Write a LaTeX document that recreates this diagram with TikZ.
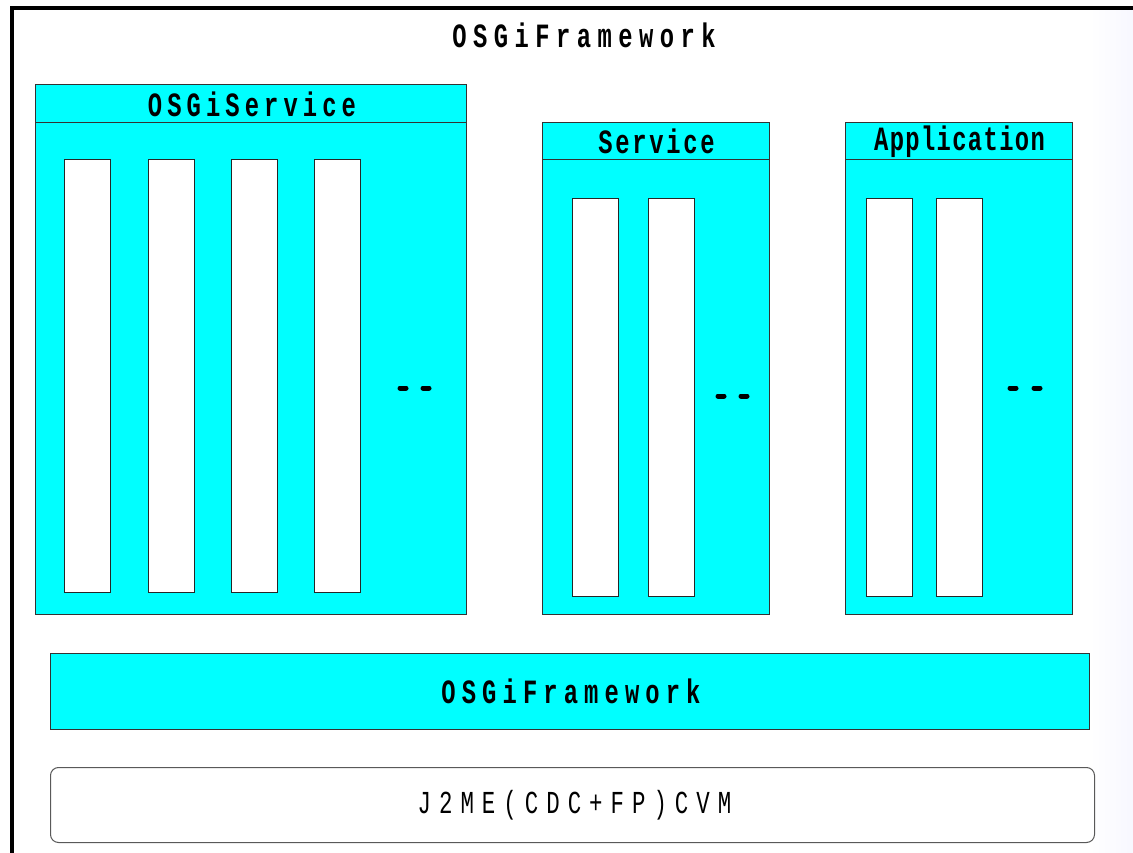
\documentclass[tikz,border=0pt]{standalone}
\usepackage{fontspec}
\newfontfamily\lab[FakeStretch=0.7]{Liberation Mono}
\newcommand{\ls}[1]{\addfontfeature{LetterSpace=#1}}
\definecolor{aqua}{RGB}{0,255,255}
\begin{document}
\begin{tikzpicture}[x=1pt,y=-1pt,
  box/.style={draw=black!80, fill=aqua, line width=1pt, inner sep=0pt, outer sep=0pt, anchor=north west},
  hdr/.style={box, font=\lab\bfseries\fontsize{34}{34}\selectfont},
  bar/.style={draw=black!85, fill=white, line width=1pt, inner sep=0pt, outer sep=0pt, anchor=north west, minimum width=46pt},
  dotmark/.style={line width=5pt, line cap=round},
  txt/.style={inner sep=0pt, font=\lab\bfseries\fontsize{34}{34}\selectfont}]
\useasboundingbox (0,0) rectangle (1133,853);
\fill[white] (0,0) rectangle (1133,853);
\shade[left color=white, right color=blue!3] (1090,10) rectangle (1133,853);
% outer frame
\coordinate (fbl) at (12,853);
\coordinate (ftl) at (12,8);
\coordinate (ftr) at (1133,8);
\draw[line width=4pt] (fbl) -- (ftl) -- (ftr);
\node[txt] (title) at (584,35) {\ls{19}OSGiFramework};

% OSGiService
\node[box, minimum width=431pt, minimum height=529pt] (osvc) at (35,85) {};
\node[hdr, minimum width=431pt, minimum height=38pt] (osvch) at (35,85) {\hspace*{3pt}\ls{15}OSGiService};
\foreach \x/\n in {64/a,148/b,231/c,314/d}
  \node[bar, minimum height=432pt] (ob\n) at (\x,160) {};
\coordinate (od1) at (400,388); \coordinate (od2) at (406,388);
\coordinate (od3) at (423,388); \coordinate (od4) at (429,388);
\draw[dotmark] (od1) -- (od2) (od3) -- (od4);

% Service
\node[box, minimum width=227pt, minimum height=491pt] (svc) at (542,123) {};
\node[hdr, minimum width=227pt, minimum height=37pt] (svch) at (542,123) {\hspace*{2pt}\ls{8}Service};
\foreach \x/\n in {572/a,648/b}
  \node[bar, minimum height=397pt] (sb\n) at (\x,199) {};
\coordinate (sd1) at (718,396); \coordinate (sd2) at (724,396);
\coordinate (sd3) at (741,396); \coordinate (sd4) at (747,396);
\draw[dotmark] (sd1) -- (sd2) (sd3) -- (sd4);

% Application
\node[box, minimum width=227pt, minimum height=491pt] (app) at (845,123) {};
\node[hdr, minimum width=227pt, minimum height=37pt] (apph) at (845,123) {\hspace*{2pt}\ls{4}Application};
\foreach \x/\n in {866/a,936/b}
  \node[bar, minimum height=397pt] (ab\n) at (\x,199) {};
\coordinate (ad1) at (1010,388); \coordinate (ad2) at (1016,388);
\coordinate (ad3) at (1034,388); \coordinate (ad4) at (1040,388);
\draw[dotmark] (ad1) -- (ad2) (ad3) -- (ad4);

% OSGi Framework bar
\node[box, minimum width=1039pt, minimum height=76pt, font=\lab\bfseries\fontsize{34}{34}\selectfont] (fw) at (50,653) {\hspace*{3pt}\ls{18}OSGiFramework};

% J2ME
\node[draw=black!65, fill=white, line width=1pt, rounded corners=8pt, inner sep=0pt, anchor=north west,
  minimum width=1044pt, minimum height=75pt, font=\lab\fontsize{32}{32}\selectfont] (j2me) at (50,767) {\hspace*{4pt}\ls{25}J2ME(CDC+FP)CVM};
\end{tikzpicture}
\end{document}
